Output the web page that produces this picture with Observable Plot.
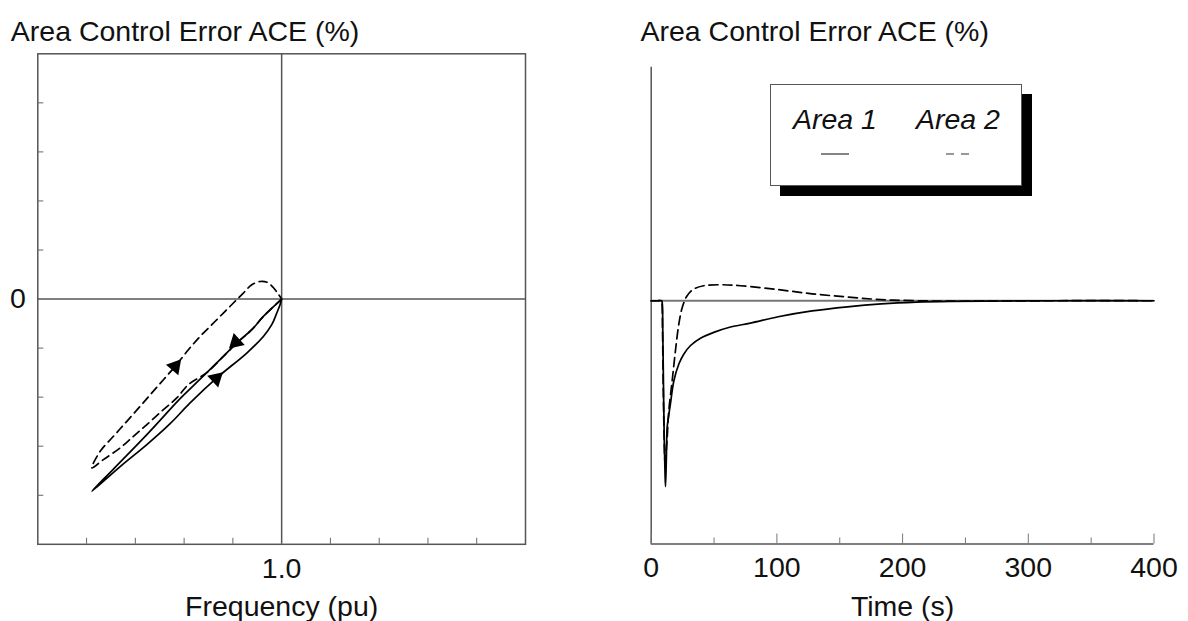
<!DOCTYPE html>
<html><head><meta charset="utf-8">
<script src="https://cdn.jsdelivr.net/npm/d3@7"></script>
<script src="https://cdn.jsdelivr.net/npm/@observablehq/plot@0.6"></script>
<style>
html,body{margin:0;padding:0;background:#fff;}
#wrap{position:relative;width:1188px;height:621px;overflow:hidden;font-family:"Liberation Sans",Arial,sans-serif;}
#left,#right{position:absolute;top:17px;}
#left{left:0}
#right{left:594px}
#legend{position:absolute;left:770px;top:84px;width:250px;height:100px;border:1.5px solid #555;background:#fff;box-shadow:10px 10px 0 #000;}
#legend svg{position:absolute;left:0;top:0;}
</style></head><body>
<div id="wrap"><div id="left"></div><div id="right"></div><div id="legend"></div></div>
<script>
// ---------- data ----------
const titleText = "Area Control Error ACE (%)";
const seriesNames = ["Area 1", "Area 2"];

// Left panel: ACE vs frequency (phase plot)
const freqDomain = [0.995, 1.005];
const aceDomainLeft = [-5, 5];
const freqTicks = [0.996, 0.997, 0.998, 0.999, 1.001, 1.002, 1.003, 1.004];
const freqTickLabels = [1.0];
const aceTicksLeft = [-4, -3, -2, -1, 1, 2, 3, 4];
const aceTickLabels = [0];

const freqArea1 = [1.0, 0.999625, 0.999387, 0.999080, 0.998805, 0.998465, 0.998191, 0.997918, 0.997236, 0.996551, 0.996109,
  0.996689, 0.997236, 0.997713, 0.998123, 0.998670, 0.999285, 0.999625, 0.999797, 0.999900, 0.999967, 1.0];
const acePhaseArea1 = [0, -0.354, -0.625, -0.896, -1.169, -1.501, -1.766, -2.031, -2.764, -3.466, -3.918,
  -3.415, -2.967, -2.540, -2.118, -1.609, -1.100, -0.762, -0.523, -0.285, -0.116, 0];

const freqArea2 = [1.0, 0.999625, 0.999387, 0.999080, 0.998805, 0.998465, 0.998088, 0.997850, 0.997576, 0.997236, 0.996961,
  0.996689, 0.996346, 0.996109, 0.996279, 0.996551, 0.996826, 0.997098, 0.997338, 0.997576, 0.997816, 0.998088, 0.998328,
  0.998568, 0.998805, 0.999010, 0.999215, 0.999387, 0.999557, 0.999701, 0.999824, 0.999926, 1.0];
const acePhaseArea2 = [0, -0.354, -0.625, -0.896, -1.169, -1.501, -1.745, -2.016, -2.255, -2.560, -2.798,
  -3.035, -3.273, -3.442, -3.104, -2.798, -2.493, -2.187, -1.914, -1.644, -1.373, -1.033, -0.762,
  -0.523, -0.285, -0.081, 0.122, 0.291, 0.358, 0.342, 0.240, 0.108, 0];

// direction arrows on the loops
const arrowFreq = [0.99906, 0.998656, 0.997816];
const arrowAce = [-0.88, -1.62, -1.373];
const arrowAngle = [227, 47, 40];

// Right panel: ACE vs time
const timeDomain = [0, 400];
const aceDomainRight = [-5, 4.8];
const timeTicks = [0, 100, 200, 300, 400];
const timeMinorTicks = [50, 150, 250, 350];

const timeArea1 = [0, 5, 8.3, 8.8, 9.2, 9.8, 10.4, 11.0, 11.4, 12.1, 12.7, 14.0, 15.4, 18.0, 22.0, 25.9, 31.3, 39.2, 49.8, 63.1, 78.9,
  101, 128, 156, 183, 211, 238, 280, 320, 400];
const aceArea1 = [0, 0, 0, -0.05, -0.6, -1.8, -2.9, -3.55, -3.82, -3.2, -2.6, -2.35, -2.1, -1.65, -1.3, -1.1, -0.92, -0.77, -0.65, -0.54, -0.46,
  -0.33, -0.21, -0.125, -0.065, -0.028, -0.012, -0.005, 0, 0];

const timeArea2 = [0, 5, 8.2, 8.6, 9.0, 9.6, 10.3, 11.0, 12.5, 14.0, 16.7, 19.3, 22.0, 24.7, 28.6, 33.9, 41.8, 55.1, 71,
  101, 128, 156, 183, 210, 240, 280, 320, 400];
const aceArea2 = [0, 0, 0, -0.05, -0.6, -1.8, -2.8, -3.3, -2.9, -2.26, -1.64, -1.027, -0.478, -0.138, 0.103, 0.24, 0.308, 0.329, 0.308,
  0.228, 0.142, 0.076, 0.023, 0.0, -0.01, -0.005, 0, 0];

// ---------- build ----------
const phase1 = freqArea1.map((f, i) => ({f, ace: acePhaseArea1[i]}));
const phase2 = freqArea2.map((f, i) => ({f, ace: acePhaseArea2[i]}));
const arrows = arrowFreq.map((f, i) => ({f, ace: arrowAce[i], angle: arrowAngle[i]}));
const ts1 = timeArea1.map((t, i) => ({t, ace: aceArea1[i]}));
const ts2 = timeArea2.map((t, i) => ({t, ace: aceArea2[i]}));

const font = "'Liberation Sans', Arial, Helvetica, sans-serif";
const baseStyle = {fontFamily: font, fontSize: "28.5px", color: "#111", background: "transparent", overflow: "visible"};
const axisColor = "#555";

const left = Plot.plot({
  width: 594, height: 604,
  marginLeft: 37.3, marginRight: 69, marginTop: 36.3, marginBottom: 77.2,
  x: {domain: freqDomain},
  y: {domain: aceDomainLeft},
  style: baseStyle,
  marks: [
    Plot.frame({stroke: axisColor, strokeWidth: 1.5}),
    Plot.ruleX(freqTickLabels, {stroke: axisColor, strokeWidth: 1.5}),
    Plot.ruleY(aceTickLabels, {stroke: axisColor, strokeWidth: 1.5}),
    Plot.axisX({ticks: freqTicks, tickSize: -6, tickFormat: () => "", label: null, stroke: "#666"}),
    Plot.axisX({ticks: freqTickLabels, tickSize: 0, tickPadding: 13, tickFormat: d => d.toFixed(1),
      label: "Frequency (pu)", labelAnchor: "center", labelOffset: 72, labelArrow: "none"}),
    Plot.axisY({ticks: aceTicksLeft, tickSize: -6, tickFormat: () => "", label: null, stroke: "#666"}),
    Plot.axisY({ticks: aceTickLabels, tickSize: 0, tickPadding: 12, tickFormat: d => String(d),
      label: titleText, labelAnchor: "top", labelOffset: 27, labelArrow: "none"}),
    Plot.line(phase2, {x: "f", y: "ace", curve: "catmull-rom", stroke: "#000", strokeWidth: 1.7, strokeDasharray: "8,5"}),
    Plot.line(phase1, {x: "f", y: "ace", curve: "catmull-rom", stroke: "#000", strokeWidth: 1.7}),
    Plot.dot(arrows, {x: "f", y: "ace", symbol: "triangle", r: 6, rotate: "angle", fill: "#000", stroke: null})
  ]
});
document.getElementById("left").appendChild(left);

const right = Plot.plot({
  width: 594, height: 604,
  marginLeft: 56.7, marginRight: 34.5, marginTop: 49.7, marginBottom: 77.5,
  x: {domain: timeDomain},
  y: {domain: aceDomainRight},
  style: baseStyle,
  marks: [
    Plot.ruleX([timeDomain[0]], {stroke: axisColor, strokeWidth: 1.5}),
    Plot.ruleY([aceDomainRight[0]], {stroke: axisColor, strokeWidth: 1.5}),
    Plot.ruleY([0], {stroke: "#777", strokeWidth: 2}),
    Plot.axisX({ticks: timeMinorTicks, tickSize: -6, tickFormat: () => "", label: null, stroke: "#777"}),
    Plot.axisX({ticks: timeTicks, tickSize: -10, tickFormat: () => "", label: null, stroke: "#777"}),
    Plot.axisX({ticks: timeTicks, tickSize: 0, tickPadding: 13, tickFormat: d => String(d),
      label: "Time (s)", labelAnchor: "center", labelOffset: 72, labelArrow: "none"}),
    Plot.axisY({ticks: [], label: titleText, labelAnchor: "top", labelOffset: 10.7, labelArrow: "none"}),
    Plot.line(ts2, {x: "t", y: "ace", curve: "catmull-rom", stroke: "#000", strokeWidth: 1.7, strokeDasharray: "9,5"}),
    Plot.line(ts1, {x: "t", y: "ace", curve: "catmull-rom", stroke: "#000", strokeWidth: 1.7})
  ]
});
document.getElementById("right").appendChild(right);

// ---------- legend ----------
const ns = "http://www.w3.org/2000/svg";
const lg = document.createElementNS(ns, "svg");
lg.setAttribute("width", 250); lg.setAttribute("height", 100);
const legendX = [64, 187];
const legendDash = [null, "8,7"];
const legendHalf = [14, 12];
seriesNames.forEach((name, i) => {
  const t = document.createElementNS(ns, "text");
  t.setAttribute("x", legendX[i]); t.setAttribute("y", 44);
  t.setAttribute("text-anchor", "middle");
  t.setAttribute("font-family", font); t.setAttribute("font-size", "28.5"); t.setAttribute("font-style", "italic");
  t.setAttribute("fill", "#111");
  t.textContent = name;
  lg.appendChild(t);
  const l = document.createElementNS(ns, "line");
  l.setAttribute("x1", legendX[i] - legendHalf[i]); l.setAttribute("x2", legendX[i] + legendHalf[i]);
  l.setAttribute("y1", 69); l.setAttribute("y2", 69);
  l.setAttribute("stroke", "#333"); l.setAttribute("stroke-width", 1.2);
  if (legendDash[i]) l.setAttribute("stroke-dasharray", legendDash[i]);
  lg.appendChild(l);
});
document.getElementById("legend").appendChild(lg);
</script>
</body></html>
